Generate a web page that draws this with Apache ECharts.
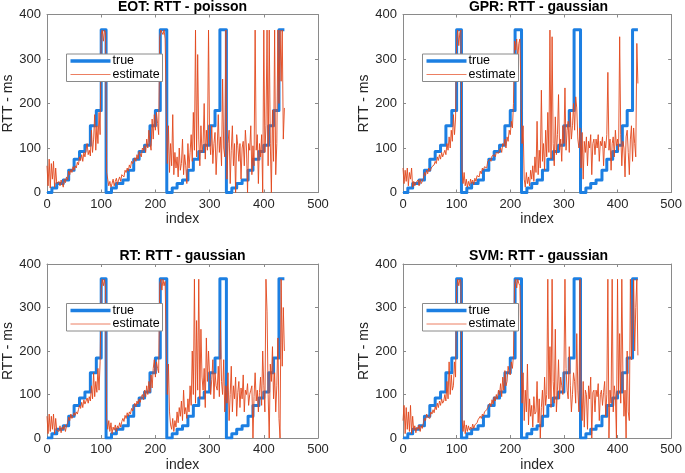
<!DOCTYPE html>
<html><head><meta charset="utf-8">
<script src="https://cdn.jsdelivr.net/npm/echarts/dist/echarts.min.js"></script>
<style>html,body{margin:0;padding:0;background:#fff}#c{width:685px;height:473px}</style>
</head><body><div id="c"></div><script>
// ---- data ----
const trueIndex = [0,9,18,30,40,50,60,70,80,91,100,109,119,128,140,150,160,170,180,190,200,209,221,231,240,250,260,270,280,290,300,310,319,331,341,350,360,371,380,391,400,409,418,428,438];
const trueLevel = [0,10,20,28,50,75,92,106,150,184,366,0,10,20,28,50,75,92,106,150,184,366,0,10,20,28,50,75,92,106,150,184,366,0,10,20,28,50,75,92,106,150,184,366,366];
const sampleStep = 2; // estimate samples every 2nd index
const estEOT = [
60,15,75,10,65,30,70,12,55,20,
18,25,15,28,20,12,30,22,35,28,
48,40,52,45,58,50,60,55,68,62,
80,72,85,70,90,80,78,110,85,95,
82,140,90,120,175,95,150,110,180,130,
355,365,340,365,360,45,30,15,25,12,
20,30,15,25,32,18,28,35,25,40,
42,35,50,45,55,48,62,55,70,65,
62,78,70,85,75,92,88,80,100,95,
105,90,120,100,140,110,95,165,120,175,
140,180,155,130,350,365,365,355,365,345,
180,65,150,45,110,60,175,40,90,55,
80,35,100,50,65,120,40,85,60,20,
110,55,90,130,70,180,95,365,80,310,
120,60,150,90,110,200,75,140,95,365,
120,85,150,65,110,135,40,100,175,90,
125,60,255,100,80,365,30,110,140,20,
95,150,60,110,0,130,105,70,110,30,
100,115,60,140,100,0,110,95,150,40,
105,60,365,95,130,20,110,80,130,0,
365,90,150,365,60,365,110,0,185,70,
365,40,110,365,200,365,250,365,120,190];
const estGPR = [
55,20,50,25,55,15,45,30,55,12,
25,15,22,18,28,15,30,20,25,32,
45,38,50,42,55,48,52,58,55,62,
70,65,80,72,85,75,90,80,88,95,
85,110,95,125,100,140,115,175,130,165,
345,365,330,360,365,55,20,45,15,30,
12,25,15,30,20,28,18,32,25,38,
40,35,48,42,55,50,58,62,55,70,
68,75,70,82,78,85,80,90,92,88,
95,100,90,110,105,120,100,125,115,140,
130,160,145,200,340,320,345,300,335,345,
220,110,150,30,12,45,20,35,15,50,
30,60,25,80,45,160,40,95,55,230,
70,110,50,140,80,180,90,365,75,350,
110,60,170,85,130,220,95,120,70,150,
110,235,95,140,160,90,180,120,150,200,
140,215,190,120,100,145,55,135,30,115,
90,125,60,115,100,130,40,110,120,85,
120,100,130,70,115,105,125,60,115,100,
130,270,95,120,50,110,125,80,140,105,
120,95,350,130,60,115,100,35,125,140,
90,40,120,150,70,145,110,80,335,245];
const estRT = [
50,10,55,15,50,20,55,10,45,18,
22,15,28,12,25,20,30,15,28,35,
48,40,55,45,50,58,52,60,55,65,
75,68,82,70,88,78,85,92,80,95,
85,120,90,150,95,130,105,160,110,175,
340,365,350,365,345,45,20,40,15,35,
10,25,18,30,15,28,22,35,25,38,
45,38,52,45,58,50,60,55,68,62,
65,80,72,85,78,90,82,95,100,88,
110,95,120,100,130,105,145,115,160,180,
140,175,160,150,355,365,340,365,350,360,
200,100,170,60,30,20,45,15,40,25,
60,35,70,50,85,40,110,55,70,45,
90,60,120,75,200,100,365,80,270,110,
365,90,250,140,110,160,70,230,130,200,
145,100,135,180,90,150,120,110,165,95,
270,130,100,180,60,120,80,150,40,100,
165,60,120,90,140,50,105,130,70,115,
90,145,60,110,100,125,75,100,110,120,
0,95,150,85,110,60,105,140,75,200,
120,60,365,290,100,0,170,130,210,90,
150,60,120,230,45,0,365,165,300,200];
const estSVM = [
40,75,10,70,20,60,15,75,10,50,
18,28,12,25,20,30,15,28,22,35,
45,40,55,48,52,45,60,55,65,58,
72,65,80,70,85,75,90,80,85,100,
85,130,90,175,100,145,110,120,175,140,
345,365,350,365,360,45,15,40,10,30,
15,28,18,25,20,32,22,30,28,35,
42,38,50,45,55,50,60,58,65,70,
68,80,72,88,78,95,85,100,90,110,
100,125,95,140,110,155,120,130,165,150,
145,175,160,190,355,365,345,365,355,350,
190,80,150,40,110,60,170,30,90,50,
75,25,95,55,60,130,35,90,0,70,
110,50,140,75,100,365,90,210,70,365,
130,80,250,60,110,180,90,140,120,100,
140,365,160,110,90,210,120,60,100,150,
130,80,240,110,60,365,100,40,130,25,
110,100,20,120,90,140,0,105,110,60,
110,95,125,40,100,110,75,105,130,50,
100,365,0,110,80,365,60,120,95,0,
365,100,240,80,365,150,50,110,0,200,
60,40,365,180,250,365,200,300,365,190];
const titles = ['EOT: RTT - poisson','GPR: RTT - gaussian','RT: RTT - gaussian','SVM: RTT - gaussian'];
const xTicks = [0,100,200,300,400,500];
const yTicks = [0,100,200,300,400];
const seriesNames = ['true','estimate'];

// ---- layout / style ----
const FONT = 'Liberation Sans, Arial, sans-serif';
const BLUE = '#1c7fe2', RED = '#e2471c', LEGRED = '#ec7f62', AX = '#8a8a8a', TXT = '#262626';
const boxes = [{l:47,t:14.5},{l:403,t:14.5},{l:47,t:264},{l:403,t:264}];
const W = 271, H = 178;
const estimates = [estEOT, estGPR, estRT, estSVM];

const trueData = trueIndex.map((x,i)=>[x,trueLevel[i]]);

const opt = {animation:false, title:[], grid:[], xAxis:[], yAxis:[], series:[], graphic:[]};
boxes.forEach((b,i)=>{
  opt.grid.push({left:b.l, top:b.t, width:W, height:H, containLabel:false});
  opt.title.push({text:titles[i], left:b.l+W/2, top:b.t-14.5, textAlign:'center', padding:0,
    textStyle:{fontSize:14, fontWeight:'bold', color:'#000', fontFamily:FONT}});
  const line = {onZero:false, lineStyle:{color:AX, width:1}};
  const tick = {inside:true, length:3, lineStyle:{color:AX}};
  opt.xAxis.push({gridIndex:i, type:'value', min:xTicks[0], max:xTicks[xTicks.length-1], interval:xTicks[1]-xTicks[0],
    name:'index', nameLocation:'middle', nameGap:20, nameTextStyle:{fontSize:14, color:TXT, fontFamily:FONT},
    axisLine:line, axisTick:tick, axisLabel:{margin:5, fontSize:13, color:TXT, fontFamily:FONT}, splitLine:{show:false}});
  opt.xAxis.push({gridIndex:i, type:'value', position:'top', min:xTicks[0], max:xTicks[xTicks.length-1], interval:xTicks[1]-xTicks[0],
    axisLine:line, axisTick:tick, axisLabel:{show:false}, splitLine:{show:false}});
  opt.yAxis.push({gridIndex:i, type:'value', min:yTicks[0], max:yTicks[yTicks.length-1], interval:yTicks[1]-yTicks[0],
    name:'RTT - ms', nameLocation:'middle', nameGap:32, nameTextStyle:{fontSize:14, color:TXT, fontFamily:FONT},
    axisLine:line, axisTick:tick, axisLabel:{margin:6, fontSize:13, color:TXT, fontFamily:FONT}, splitLine:{show:false}});
  opt.yAxis.push({gridIndex:i, type:'value', position:'right', min:yTicks[0], max:yTicks[yTicks.length-1], interval:yTicks[1]-yTicks[0],
    axisLine:line, axisTick:tick, axisLabel:{show:false}, splitLine:{show:false}});
  // legend box (drawn as graphic so every panel gets identical styling)
  opt.graphic.push({type:'group', left:b.l+19, top:b.t+39, children:[
    {type:'rect', z:100, shape:{x:0, y:0, width:96, height:27.5}, style:{fill:'#fff', stroke:AX, lineWidth:1}},
    {type:'line', z:101, shape:{x1:4, y1:7, x2:44, y2:7}, style:{stroke:BLUE, lineWidth:3.5}},
    {type:'line', z:101, shape:{x1:4, y1:20.5, x2:44, y2:20.5}, style:{stroke:LEGRED, lineWidth:1}},
    {type:'text', z:101, x:46, y:7, style:{text:seriesNames[0], fill:'#000', font:'12.5px '+FONT, textVerticalAlign:'middle', verticalAlign:'middle'}},
    {type:'text', z:101, x:46, y:20.5, style:{text:seriesNames[1], fill:'#000', font:'12.5px '+FONT, textVerticalAlign:'middle', verticalAlign:'middle'}}
  ]});
  opt.series.push({type:'line', name:seriesNames[0], xAxisIndex:2*i, yAxisIndex:2*i, data:trueData, step:'end',
    symbol:'none', lineStyle:{width:3, color:BLUE, join:'round'}, itemStyle:{color:BLUE}, z:2});
  opt.series.push({type:'line', name:seriesNames[1], xAxisIndex:2*i, yAxisIndex:2*i,
    data:estimates[i].map((v,k)=>[k*sampleStep, v]),
    symbol:'none', lineStyle:{width:1, color:RED, opacity:0.9}, itemStyle:{color:RED}, z:3});
});
const chart = echarts.init(document.getElementById('c'), null, {renderer:'canvas'});
chart.setOption(opt);
</script></body></html>
